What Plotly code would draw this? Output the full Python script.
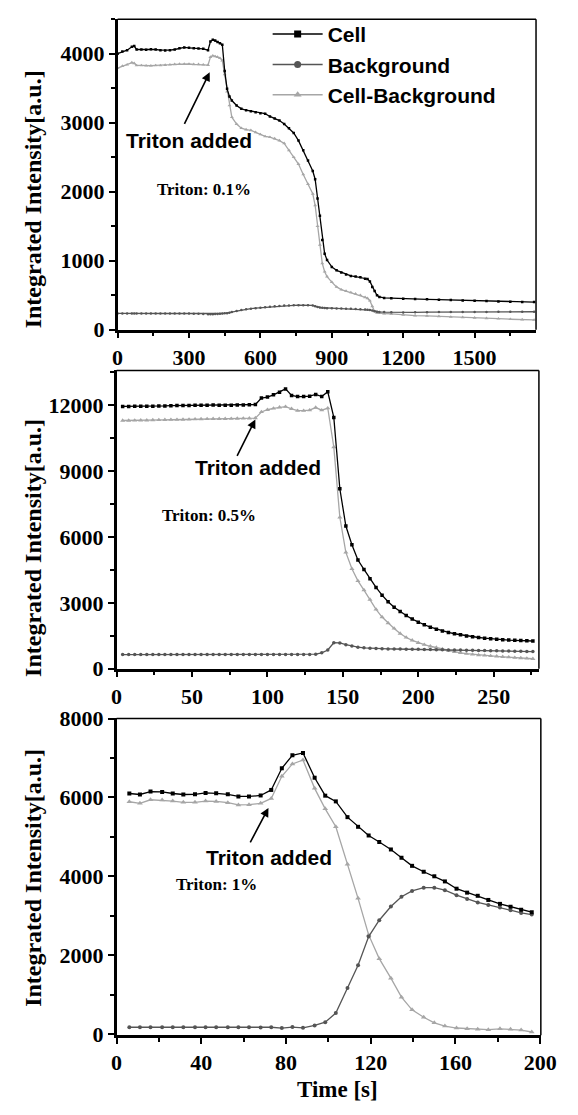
import plotly.graph_objects as go

W, H = 578, 1115

# ---------------- Panel 1 (Triton 0.1 %) ----------------
t1 = [0, 20, 40, 60, 70, 80, 100, 120, 140, 160, 180, 200, 220, 240, 260, 280, 300, 320, 340, 360,
      380, 390, 400, 410, 420, 430, 440, 450, 460, 470, 480, 500, 520, 540, 560, 580, 600, 620, 640,
      660, 680, 700, 720, 740, 760, 780, 800, 820, 830, 840, 850, 860, 870, 880, 900, 920, 940, 960,
      980, 1000, 1020, 1040, 1050, 1060, 1070, 1080, 1090, 1100, 1120, 1150, 1200, 1250, 1300, 1350,
      1400, 1450, 1500, 1550, 1600, 1650, 1700, 1750]
cell1 = [4000, 4030, 4050, 4100, 4110, 4060, 4060, 4055, 4065, 4060, 4050, 4045, 4050, 4060, 4080,
         4090, 4085, 4080, 4075, 4070, 4050, 4175, 4200, 4190, 4170, 4150, 4130, 3750, 3490, 3380,
         3320, 3250, 3200, 3180, 3165, 3150, 3135, 3130, 3090, 3060, 3030, 2980, 2920, 2850, 2740,
         2600, 2450, 2300, 2180, 1900, 1650, 1300, 1100, 1010, 910, 860, 830, 800, 780, 770, 760,
         740, 735, 700, 620, 560, 500, 475, 460, 455, 450, 445, 440, 435, 430, 425, 420, 415, 410,
         405, 402, 400]
bg1 = [236, 235, 235, 235, 235, 235, 235, 235, 235, 235, 235, 235, 235, 235, 235, 235, 235, 232,
       230, 228, 225, 225, 225, 226, 228, 231, 235, 238, 240, 247, 255, 270, 285, 295, 305, 312, 318,
       325, 333, 340, 345, 350, 352, 354, 355, 355, 355, 352, 340, 328, 322, 318, 315, 312, 310, 308,
       306, 304, 302, 300, 296, 292, 290, 285, 278, 268, 262, 258, 255, 252, 250, 252, 254, 255, 256,
       257, 258, 258, 259, 259, 260, 260]
diff1 = [3790, 3820, 3840, 3870, 3860, 3830, 3830, 3825, 3825, 3830, 3830, 3835, 3840, 3845, 3850,
         3850, 3850, 3845, 3845, 3840, 3835, 3950, 3970, 3960, 3950, 3935, 3900, 3700, 3450, 3250,
         3080, 2980, 2920, 2900, 2890, 2860, 2830, 2800, 2790, 2770, 2740, 2700, 2600, 2500, 2400,
         2250, 2110, 1970, 1800, 1500, 1230, 960, 840, 770, 690, 620, 580, 560, 540, 520, 500, 470,
         455, 420, 340, 265, 245, 240, 235, 228, 215, 205, 200, 195, 185, 180, 172, 165, 160, 152,
         147, 142]

# ---------------- Panel 2 (Triton 0.5 %) ----------------
t2 = [4, 8, 12, 16, 20, 24, 28, 32, 36, 40, 44, 48, 52, 56, 60, 64, 68, 72, 76, 80, 84, 88, 92, 96,
      100, 104, 108, 112, 116, 120, 124, 128, 132, 136, 140, 144, 148, 152, 156, 160, 164, 168, 172,
      176, 180, 184, 188, 192, 196, 200, 204, 208, 212, 216, 220, 224, 228, 232, 236, 240, 244, 248,
      252, 256, 260, 264, 268, 272, 276]
cell2 = [11950, 11950, 11955, 11960, 11960, 11965, 11970, 11975, 11985, 11990, 11990, 11995, 12000,
         12005, 12010, 12015, 12010, 12010, 12010, 12015, 12020, 12030, 12040, 12330, 12380, 12480,
         12600, 12750, 12450, 12400, 12400, 12420, 12500, 12400, 12620, 11450, 8200, 6500, 5650, 4950,
         4520, 4100, 3700, 3350, 3050, 2800, 2600, 2420, 2260, 2120, 2000, 1890, 1800, 1720, 1650,
         1590, 1540, 1490, 1450, 1420, 1390, 1360, 1340, 1320, 1300, 1290, 1280, 1270, 1260]
bg2 = [640, 640, 640, 640, 640, 640, 640, 640, 640, 640, 640, 640, 640, 640, 640, 640, 640, 640,
       640, 640, 640, 640, 640, 640, 640, 640, 640, 640, 640, 640, 645, 650, 660, 720, 850, 1180,
       1170, 1090, 1030, 980, 950, 930, 915, 905, 900, 895, 890, 888, 885, 880, 875, 870, 865, 860,
       855, 850, 845, 840, 835, 830, 825, 820, 810, 805, 800, 795, 790, 785, 780]
diff2 = [11310, 11310, 11315, 11320, 11320, 11330, 11335, 11340, 11345, 11350, 11355, 11360, 11370,
         11375, 11380, 11385, 11385, 11390, 11395, 11400, 11405, 11410, 11420, 11700, 11800, 11860,
         11910, 11940, 11840, 11760, 11760, 11780, 11900, 11780, 11870, 10100, 6900, 5300, 4550, 4000,
         3580, 3150, 2700, 2350, 2080, 1830, 1600, 1420, 1290, 1180, 1090, 1020, 960, 890, 820, 770,
         720, 680, 650, 620, 600, 580, 560, 540, 520, 500, 480, 465, 450]

# ---------------- Panel 3 (Triton 1 %) ----------------
t3 = [6, 11, 16, 21.5, 26.5, 31.5, 37, 42, 47, 52.5, 57.5, 62.5, 68, 73, 78, 83, 88, 93.5, 98.5,
      103.5, 109, 114, 119, 124, 129.5, 134.5, 139.5, 145, 150, 155, 160.5, 165.5, 170.5, 175.5,
      181, 186, 191, 196]
cell3 = [6100, 6075, 6150, 6140, 6100, 6075, 6080, 6115, 6105, 6080, 6025, 6025, 6050, 6190, 6740,
         7070, 7130, 6500, 6045, 5900, 5500, 5255, 5035, 4870, 4680, 4470, 4265, 4115, 4000, 3870,
         3685, 3585, 3505, 3400, 3300, 3230, 3150, 3090]
bg3 = [170, 170, 170, 170, 170, 170, 170, 170, 170, 170, 170, 170, 165, 170, 150, 175, 155, 216, 300,
       530, 1167, 1745, 2471, 2885, 3232, 3480, 3628, 3710, 3710, 3646, 3522, 3423, 3338, 3274, 3210,
       3140, 3070, 3030]
diff3 = [5891, 5851, 5941, 5933, 5908, 5875, 5875, 5908, 5900, 5867, 5809, 5817, 5851, 5975, 6536,
         6850, 6950, 6230, 5710, 5256, 4306, 3440, 2513, 1911, 1415, 934, 612, 424, 283, 200, 151,
         134, 118, 109, 130, 120, 100, 50]

series_names = ["Cell", "Background", "Cell-Background"]
colors = {"Cell": "#000000", "Background": "#555555", "Cell-Background": "#a6a6a6"}
symbols = {"Cell": "square", "Background": "circle", "Cell-Background": "triangle-up"}

panels = [
    dict(t=t1, data={"Cell": cell1, "Background": bg1, "Cell-Background": diff1},
         xr=[0, 1758], yr=[0, 4500], xd=300, xm=150, yd=1000, ym=500,
         px=(116, 551), py=(7.3, 325), msize=2.5),
    dict(t=t2, data={"Cell": cell2, "Background": bg2, "Cell-Background": diff2},
         xr=[0, 280], yr=[0, 13590], xd=50, xm=25, yd=3000, ym=1500,
         px=(115, 554), py=(366.7, 671.7), msize=3.5),
    dict(t=t3, data={"Cell": cell3, "Background": bg3, "Cell-Background": diff3},
         xr=[0, 200.3], yr=[-32, 8005], xd=40, xm=20, yd=2000, ym=1000,
         px=(115, 556), py=(722.6, 1046.7), msize=4),
]

fig = go.Figure()
serif = "Liberation Serif"
sans = "Liberation Sans"

layout_axes = {}
for i, p in enumerate(panels, start=1):
    xa = "x" if i == 1 else f"x{i}"
    ya = "y" if i == 1 else f"y{i}"
    for name in ["Cell-Background", "Background", "Cell"]:
        fig.add_trace(go.Scatter(
            x=p["t"], y=p["data"][name], mode="lines+markers", name=name,
            line=dict(color=colors[name], width=1.3),
            marker=dict(symbol=symbols[name], size=p["msize"] + (1 if name == "Cell-Background" else 0),
                        color=colors[name]),
            xaxis=xa, yaxis=ya, showlegend=False, hoverinfo="skip"))
    xdom = [p["px"][0] / W, p["px"][1] / W]
    ydom = [1 - p["py"][1] / H, 1 - p["py"][0] / H]
    common = dict(showline=True, linecolor="black", linewidth=2.5, mirror=False, showgrid=False,
                  zeroline=False, ticks="outside", ticklen=6, tickwidth=2, tickcolor="black",
                  tickformat="d",
                  tickfont=dict(family=serif, size=22, color="black", weight="bold"))
    layout_axes["xaxis" if i == 1 else f"xaxis{i}"] = dict(
        domain=xdom, range=p["xr"], dtick=p["xd"], tick0=0, anchor=ya,
        minor=dict(ticks="outside", ticklen=4, tickwidth=2, tickcolor="black", dtick=p["xm"]),
        **common)
    layout_axes["yaxis" if i == 1 else f"yaxis{i}"] = dict(
        domain=ydom, range=p["yr"], dtick=p["yd"], tick0=0, anchor=xa,
        minor=dict(ticks="outside", ticklen=4, tickwidth=2, tickcolor="black", dtick=p["ym"]),
        **common)

# legend entries (panel 1)
for name in series_names:
    fig.add_trace(go.Scatter(
        x=[None], y=[None], mode="lines+markers", name=name,
        line=dict(color=colors[name], width=1.5),
        marker=dict(symbol=symbols[name], size=7, color=colors[name]),
        xaxis="x", yaxis="y", showlegend=True))

fig.update_layout(**layout_axes)

shapes = []
for i in range(1, 4):
    xr = "x domain" if i == 1 else f"x{i} domain"
    yr = "y domain" if i == 1 else f"y{i} domain"
    shapes.append(dict(type="line", xref=xr, yref=yr, x0=0, x1=1, y0=1, y1=1,
                       line=dict(color="black", width=1.5)))
    shapes.append(dict(type="line", xref=xr, yref=yr, x0=1, x1=1, y0=0, y1=1,
                       line=dict(color="black", width=1.5)))

ann = []
# y-axis titles
for yc in [191.7, 548.3, 885.8]:
    ann.append(dict(text="Integrated Intensity[a.u.]", xref="paper", yref="paper",
                    x=28 / W, y=1 - yc / H, showarrow=False, textangle=-90,
                    xanchor="center", yanchor="middle",
                    font=dict(family=serif, size=24, color="black", weight="bold")))
# x-axis title
ann.append(dict(text="Time [s]", xref="paper", yref="paper", x=345 / W, y=1 - 1102 / H,
                showarrow=False, xanchor="center", yanchor="middle",
                font=dict(family=serif, size=23, color="black", weight="bold")))
# "Triton added" labels
for (cx, cy) in [(190, 131), (261.5, 466), (273.5, 865)]:
    ann.append(dict(text="Triton added", xref="paper", yref="paper", x=cx / W, y=1 - cy / H,
                    showarrow=False, xanchor="center", yanchor="middle",
                    font=dict(family=sans, size=21, color="black", weight="bold")))
# concentration labels
for (txt, cx, cy) in [("Triton: 0.1%", 206, 182), ("Triton: 0.5%", 211, 515), ("Triton: 1%", 219, 892.5)]:
    ann.append(dict(text=txt, xref="paper", yref="paper", x=cx / W, y=1 - cy / H,
                    showarrow=False, xanchor="center", yanchor="middle",
                    font=dict(family=serif, size=17, color="black", weight="bold")))
# arrows
for (xa, ya, x, y, ax, ay) in [("x", "y", 387, 3730, -26, 53),
                               ("x2", "y2", 92, 11360, -19, 38),
                               ("x3", "y3", 71.7, 5735, -19, 36)]:
    ann.append(dict(text="", xref=xa, yref=ya, x=x, y=y, ax=ax, ay=ay, showarrow=True,
                    arrowhead=2, arrowsize=1.1, arrowwidth=1.6, arrowcolor="black"))

fig.update_layout(
    width=W, height=H, margin=dict(l=0, r=0, t=0, b=0),
    paper_bgcolor="white", plot_bgcolor="white",
    shapes=shapes, annotations=ann,
    legend=dict(x=272 / W, y=1 - 2 / H, xanchor="left", yanchor="top",
                bgcolor="rgba(0,0,0,0)", borderwidth=0, itemwidth=50, tracegroupgap=0,
                font=dict(family=sans, size=21, color="black", weight="bold")),
)

fig.write_html("out.html", config={"displayModeBar": False},
               post_script="document.body.style.margin='0px';")
